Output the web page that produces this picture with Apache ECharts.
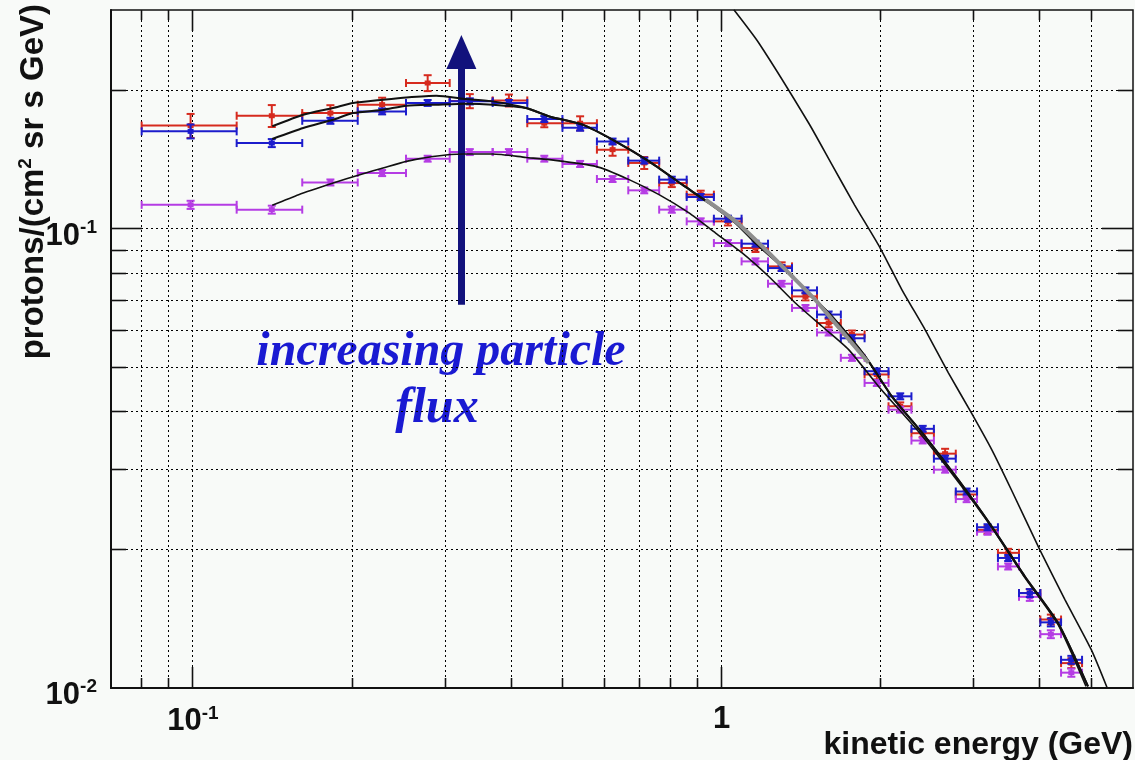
<!DOCTYPE html>
<html>
<head>
<meta charset="utf-8">
<script src="https://cdn.jsdelivr.net/npm/echarts@6/dist/echarts.min.js"></script>
<style>
html,body{margin:0;padding:0;background:#f8faf8;}
#c{width:1135px;height:760px;}
</style>
</head>
<body>
<div id="c"></div>
<script>
// ---------- data ----------
const xEdges = [0.080, 0.121, 0.161, 0.205, 0.253, 0.306, 0.369, 0.429, 0.500, 0.581, 0.666, 0.762, 0.859, 0.967, 1.091, 1.224, 1.359, 1.515, 1.681, 1.864, 2.069, 2.286, 2.521, 2.773, 3.042, 3.332, 3.652, 4.008, 4.386, 4.806];
const xCenters = [0.099, 0.141, 0.182, 0.228, 0.278, 0.334, 0.396, 0.462, 0.540, 0.622, 0.714, 0.805, 0.913, 1.028, 1.159, 1.299, 1.441, 1.594, 1.764, 1.966, 2.177, 2.401, 2.647, 2.907, 3.184, 3.484, 3.828, 4.195, 4.587];

const redY  = [0.168, 0.1765, 0.1789, 0.1866, 0.208, 0.190, 0.1906, 0.170, 0.170, 0.1489, 0.1393, 0.1259, 0.1188, 0.1039, 0.0909, 0.0829, 0.0713, 0.0624, 0.0589, 0.0482, 0.0411, 0.0359, 0.0324, 0.0264, 0.0221, 0.0197, 0.0161, 0.0141, 0.01133];
const redErr = [0.0101, 0.0097, 0.0072, 0.0066, 0.0083, 0.0067, 0.0057, 0.0034, 0.006, 0.0045, 0.0042, 0.0025, 0.0024, 0.0021, 0.0018, 0.0017, 0.0014, 0.0013, 0.0012, 0.0012, 0.0008, 0.0007, 0.0008, 0.0005, 0.00044, 0.0004, 0.00032, 0.00035, 0.00028];

const blueY = [0.1632, 0.1539, 0.1721, 0.1804, 0.1882, 0.1897, 0.1882, 0.1736, 0.1662, 0.1551, 0.1409, 0.1281, 0.1174, 0.1053, 0.0929, 0.0822, 0.0735, 0.0651, 0.0578, 0.0490, 0.0432, 0.0367, 0.0316, 0.0268, 0.0224, 0.0192, 0.0161, 0.0139, 0.01152];
const blueErr = [0.0057, 0.0031, 0.0026, 0.0027, 0.0028, 0.0029, 0.0028, 0.0026, 0.0025, 0.0023, 0.0021, 0.0019, 0.0018, 0.0016, 0.0014, 0.0012, 0.0011, 0.0010, 0.0009, 0.0007, 0.00065, 0.00055, 0.00048, 0.0004, 0.00034, 0.00029, 0.00032, 0.00028, 0.00023];

const magY  = [0.1129, 0.1102, 0.1263, 0.1324, 0.1423, 0.1471, 0.1471, 0.1423, 0.1386, 0.1285, 0.1214, 0.1102, 0.1039, 0.0932, 0.0850, 0.0760, 0.0673, 0.0595, 0.0524, 0.0462, 0.0404, 0.0346, 0.0299, 0.0258, 0.0219, 0.0184, 0.0158, 0.0131, 0.0108];
const magErr = [0.0023, 0.0022, 0.0019, 0.002, 0.0021, 0.0022, 0.0022, 0.0021, 0.0021, 0.0019, 0.0018, 0.0017, 0.0016, 0.0014, 0.0013, 0.0011, 0.0010, 0.0009, 0.0008, 0.0007, 0.0006, 0.0005, 0.00045, 0.0004, 0.00033, 0.00028, 0.00032, 0.00026, 0.00022];

const redFitX = [0.1413, 0.1617, 0.1842, 0.2009, 0.2289, 0.2533, 0.2887, 0.3289, 0.3691, 0.4268, 0.4722, 0.5458, 0.631, 0.7292, 0.8427, 0.9463, 1.0627, 1.159, 1.301, 1.461, 1.617, 1.869, 2.099, 2.427, 2.804, 3.241, 3.746, 4.329, 4.932];
const redFitY = [0.1674, 0.1774, 0.1835, 0.1882, 0.1913, 0.1935, 0.1952, 0.1920, 0.1897, 0.1835, 0.1759, 0.1688, 0.1551, 0.1404, 0.1249, 0.1139, 0.1031, 0.0932, 0.0829, 0.0725, 0.0645, 0.0528, 0.0432, 0.0353, 0.0284, 0.0225, 0.0175, 0.01385, 0.01008];
const blueFitX = [0.1413, 0.1617, 0.1842, 0.2009, 0.2289, 0.2533, 0.2887, 0.3289, 0.3691, 0.4268, 0.4722, 0.5458, 0.631, 0.7292, 0.8427, 0.9463, 1.0627, 1.159, 1.301, 1.461, 1.617, 1.869, 2.099, 2.427, 2.804, 3.241, 3.746, 4.329, 4.932];
const blueFitY = [0.1571, 0.166, 0.173, 0.1789, 0.1819, 0.1856, 0.1866, 0.1875, 0.1866, 0.1835, 0.1759, 0.1688, 0.1551, 0.1404, 0.1249, 0.1139, 0.1031, 0.0932, 0.0829, 0.0725, 0.0645, 0.0528, 0.0432, 0.0353, 0.0284, 0.0225, 0.0175, 0.01385, 0.01008];
const magFitX = [0.1413, 0.1585, 0.1842, 0.2069, 0.2289, 0.2533, 0.2844, 0.324, 0.3691, 0.4268, 0.4722, 0.5783, 0.6684, 0.7615, 0.8676, 0.9743, 1.0936, 1.228, 1.379, 1.548, 1.739, 1.981, 2.357, 2.804, 3.241, 3.746, 4.329, 4.89];
const magFitY = [0.1126, 0.1188, 0.1259, 0.1313, 0.1358, 0.1404, 0.1439, 0.1457, 0.1457, 0.1432, 0.1416, 0.1369, 0.1281, 0.1188, 0.1084, 0.0980, 0.0887, 0.0788, 0.0690, 0.0614, 0.0546, 0.0454, 0.0362, 0.0281, 0.0224, 0.0174, 0.01374, 0.01008];
const grayX = [0.9328, 1.0627, 1.193, 1.34, 1.504, 1.764, 1.896];
const grayY = [0.1158, 0.1039, 0.0917, 0.0802, 0.0701, 0.0564, 0.0511];
const steepX = [1.055, 1.176, 1.461, 1.617, 1.784, 1.995, 2.192, 2.427, 2.685, 2.970, 3.241, 3.534, 3.999, 4.458, 5.003, 5.363];
const steepY = [0.3004, 0.2543, 0.1702, 0.1381, 0.1129, 0.0909, 0.0738, 0.0603, 0.0486, 0.0397, 0.0331, 0.0270, 0.0200, 0.0156, 0.01212, 0.0100];

// axes / ticks
const xMin = 0.07, xMax = 6, yMin = 0.01, yMax = 0.3;
const xGridVals = [0.08, 0.09, 0.1, 0.2, 0.3, 0.4, 0.5, 0.6, 0.7, 0.8, 0.9, 1, 2, 3, 4, 5];
const yGridVals = [0.02, 0.03, 0.04, 0.05, 0.06, 0.07, 0.08, 0.09, 0.1, 0.2];
const xMajor = [0.1, 1];
const yMajor = [0.01, 0.1];
const xTickVals = [0.1, 1];
const xTickBase = ['10', '1'];
const xTickExp = ['-1', ''];
const yTickVals = [0.01, 0.1];
const yTickBase = ['10', '10'];
const yTickExp = ['-2', '-1'];

const xTitle = 'kinetic energy (GeV)';
const yTitleA = 'protons/(cm', yTitleSup = '2', yTitleB = ' sr s GeV)';
const noteLines = ['increasing particle', 'flux'];

// arrow annotation (data coordinates)
const arrowX = 0.322, arrowFrom = 0.0684, arrowTo = 0.243;

// ---------- helpers ----------
const near = (a, b) => Math.abs(Math.log10(a) - Math.log10(b)) < 1e-6;
const isIn = (v, arr) => arr.some(a => near(a, v));
function fmtX(v) {
  for (let i = 0; i < xTickVals.length; i++) if (near(v, xTickVals[i])) return xTickExp[i] ? xTickBase[i] + '{s|' + xTickExp[i] + '}' : xTickBase[i];
  return '';
}
function fmtY(v) {
  for (let i = 0; i < yTickVals.length; i++) if (near(v, yTickVals[i])) return yTickBase[i] + '{s|' + yTickExp[i] + '}';
  return '';
}
const pairs = (xs, ys) => xs.map((x, i) => [x, ys[i]]);
const errData = (ys, es) => xCenters.map((x, i) => [x, ys[i], xEdges[i], xEdges[i + 1], ys[i] - es[i], ys[i] + es[i]]);
const crisp = v => Math.round(v - 0.5) + 0.5;

const GRID = '#000';
function renderXGrid(params, api) {
  const cs = params.coordSys;
  const v = api.value(0);
  const x = crisp(api.coord([v, yMin])[0]);
  const len = isIn(v, xMajor) ? 21 : 10;
  const b = cs.y + cs.height;
  return { type: 'group', children: [
    { type: 'line', shape: { x1: x, y1: cs.y, x2: x, y2: b }, style: { stroke: GRID, lineWidth: 1, lineDash: [2, 3] } },
    { type: 'line', shape: { x1: x, y1: b, x2: x, y2: b - len }, style: { stroke: '#111', lineWidth: 1.6 } },
    { type: 'line', shape: { x1: x, y1: cs.y, x2: x, y2: cs.y + len }, style: { stroke: '#111', lineWidth: 1.6 } }
  ]};
}
function renderYGrid(params, api) {
  const cs = params.coordSys;
  const v = api.value(1);
  const y = crisp(api.coord([xMin, v])[1]);
  const len = isIn(v, yMajor) ? 31 : 15;
  const r = cs.x + cs.width;
  return { type: 'group', children: [
    { type: 'line', shape: { x1: cs.x, y1: y, x2: r, y2: y }, style: { stroke: GRID, lineWidth: 1, lineDash: [2, 3] } },
    { type: 'line', shape: { x1: cs.x, y1: y, x2: cs.x + len, y2: y }, style: { stroke: '#111', lineWidth: 1.6 } },
    { type: 'line', shape: { x1: r, y1: y, x2: r - len, y2: y }, style: { stroke: '#111', lineWidth: 1.6 } }
  ]};
}
function makeErrRender(color) {
  return function (params, api) {
    const xc = api.value(0), y = api.value(1), xl = api.value(2), xh = api.value(3), yl = api.value(4), yh = api.value(5);
    const c = api.coord([xc, y]);
    const l = api.coord([xl, y]);
    const r = api.coord([xh, y]);
    const t = api.coord([xc, yh]);
    const bt = api.coord([xc, yl]);
    const st = { stroke: color, lineWidth: 2 };
    const capH = 4, capW = 4;
    return { type: 'group', children: [
      { type: 'line', shape: { x1: l[0], y1: c[1], x2: r[0], y2: c[1] }, style: st },
      { type: 'line', shape: { x1: l[0], y1: c[1] - capH, x2: l[0], y2: c[1] + capH }, style: st },
      { type: 'line', shape: { x1: r[0], y1: c[1] - capH, x2: r[0], y2: c[1] + capH }, style: st },
      { type: 'line', shape: { x1: c[0], y1: t[1], x2: c[0], y2: bt[1] }, style: st },
      { type: 'line', shape: { x1: c[0] - capW, y1: t[1], x2: c[0] + capW, y2: t[1] }, style: st },
      { type: 'line', shape: { x1: c[0] - capW, y1: bt[1], x2: c[0] + capW, y2: bt[1] }, style: st },
      { type: 'rect', shape: { x: c[0] - 3, y: c[1] - 2.5, width: 6, height: 5 }, style: { fill: color } }
    ]};
  };
}
function curve(name, xs, ys, color, width, z) {
  return { name, type: 'line', data: pairs(xs, ys), showSymbol: false, symbol: 'none', smooth: 0.2,
    lineStyle: { color, width }, z, silent: true, animation: false };
}

const RED = '#d62a1e', BLUE = '#1c1ccc', MAG = '#b53ce4';
const LBL_FONT = 'Liberation Sans';

const chart = echarts.init(document.getElementById('c'), null, { renderer: 'canvas' });
chart.setOption({
  backgroundColor: '#f8faf8',
  animation: false,
  grid: { left: 111, top: 10, right: 2, bottom: 72, show: true, borderColor: '#111', borderWidth: 1.5, backgroundColor: 'transparent' },
  xAxis: {
    type: 'log', logBase: 10, min: xMin, max: xMax,
    axisLine: { show: true, lineStyle: { color: '#111', width: 2 } },
    axisTick: { show: false }, splitLine: { show: false }, minorTick: { show: false },
    axisLabel: {
      showMinLabel: false, showMaxLabel: false, margin: 16, formatter: fmtX,
      color: '#111', fontFamily: LBL_FONT, fontWeight: 'bold', fontSize: 31,
      rich: { s: { fontSize: 19, fontWeight: 'bold', fontFamily: LBL_FONT, color: '#111', verticalAlign: 'top', padding: [0, 0, 16, 0] } }
    }
  },
  yAxis: {
    type: 'log', logBase: 10, min: yMin, max: yMax,
    axisLine: { show: true, lineStyle: { color: '#111', width: 2 } },
    axisTick: { show: false }, splitLine: { show: false }, minorTick: { show: false },
    axisLabel: {
      showMinLabel: true, showMaxLabel: false, margin: 14, formatter: fmtY, padding: [14, 0, 0, 0],
      color: '#111', fontFamily: LBL_FONT, fontWeight: 'bold', fontSize: 31,
      rich: { s: { fontSize: 19, fontWeight: 'bold', fontFamily: LBL_FONT, color: '#111', verticalAlign: 'top', padding: [0, 0, 16, 0] } }
    }
  },
  graphic: [
    { type: 'text', x: 1133, y: 745, style: { text: xTitle, font: 'bold 32px "Liberation Sans"', fill: '#111', align: 'right', verticalAlign: 'middle' } },
    { type: 'text', x: 34, y: 4, rotation: Math.PI / 2,
      style: { text: yTitleA + '{s|' + yTitleSup + '}' + '{b|' + yTitleB + '}', font: 'bold 33px "Liberation Sans"', fill: '#111', align: 'right', verticalAlign: 'middle',
        rich: { s: { font: 'bold 19px "Liberation Sans"', fill: '#111', verticalAlign: 'top', padding: [0, 0, 16, 0] }, b: { font: 'bold 33px "Liberation Sans"', fill: '#111' } } } },
    { type: 'text', x: 441, y: 353, style: { text: noteLines[0], font: 'italic bold 48px "Liberation Serif"', fill: '#1a1ad2', align: 'center', verticalAlign: 'middle' } },
    { type: 'text', x: 437, y: 409, style: { text: noteLines[1], font: 'italic bold 50px "Liberation Serif"', fill: '#1a1ad2', align: 'center', verticalAlign: 'middle' } }
  ],
  series: [
    { type: 'custom', name: 'xgrid', renderItem: renderXGrid, data: xGridVals.map(v => [v, yMin]), z: 1, silent: true, clip: false },
    { type: 'custom', name: 'ygrid', renderItem: renderYGrid, data: yGridVals.map(v => [xMin, v]), z: 1, silent: true, clip: false },
    { type: 'custom', name: 'red', renderItem: makeErrRender(RED), data: errData(redY, redErr), z: 3, silent: true,
      encode: { x: [0, 2, 3], y: [1, 4, 5] } },
    { type: 'custom', name: 'magenta', renderItem: makeErrRender(MAG), data: errData(magY, magErr), z: 4, silent: true,
      encode: { x: [0, 2, 3], y: [1, 4, 5] } },
    { type: 'custom', name: 'blue', renderItem: makeErrRender(BLUE), data: errData(blueY, blueErr), z: 5, silent: true,
      encode: { x: [0, 2, 3], y: [1, 4, 5] } },
    curve('redFit', redFitX, redFitY, '#111', 2, 6),
    curve('blueFit', blueFitX, blueFitY, '#111', 2, 6),
    curve('magFit', magFitX, magFitY, '#111', 1.6, 6),
    curve('gray', grayX, grayY, '#8e8e8e', 4, 7),
    Object.assign(curve('steep', steepX, steepY, '#111', 1.6, 6), {
      markLine: {
        silent: true, symbol: ['none', 'triangle'], symbolSize: [30, 34], animation: false,
        label: { show: false },
        lineStyle: { color: '#12127c', width: 7, type: 'solid' },
        data: [[{ coord: [arrowX, arrowFrom] }, { coord: [arrowX, arrowTo] }]]
      }
    })
  ]
});
</script>
</body>
</html>
